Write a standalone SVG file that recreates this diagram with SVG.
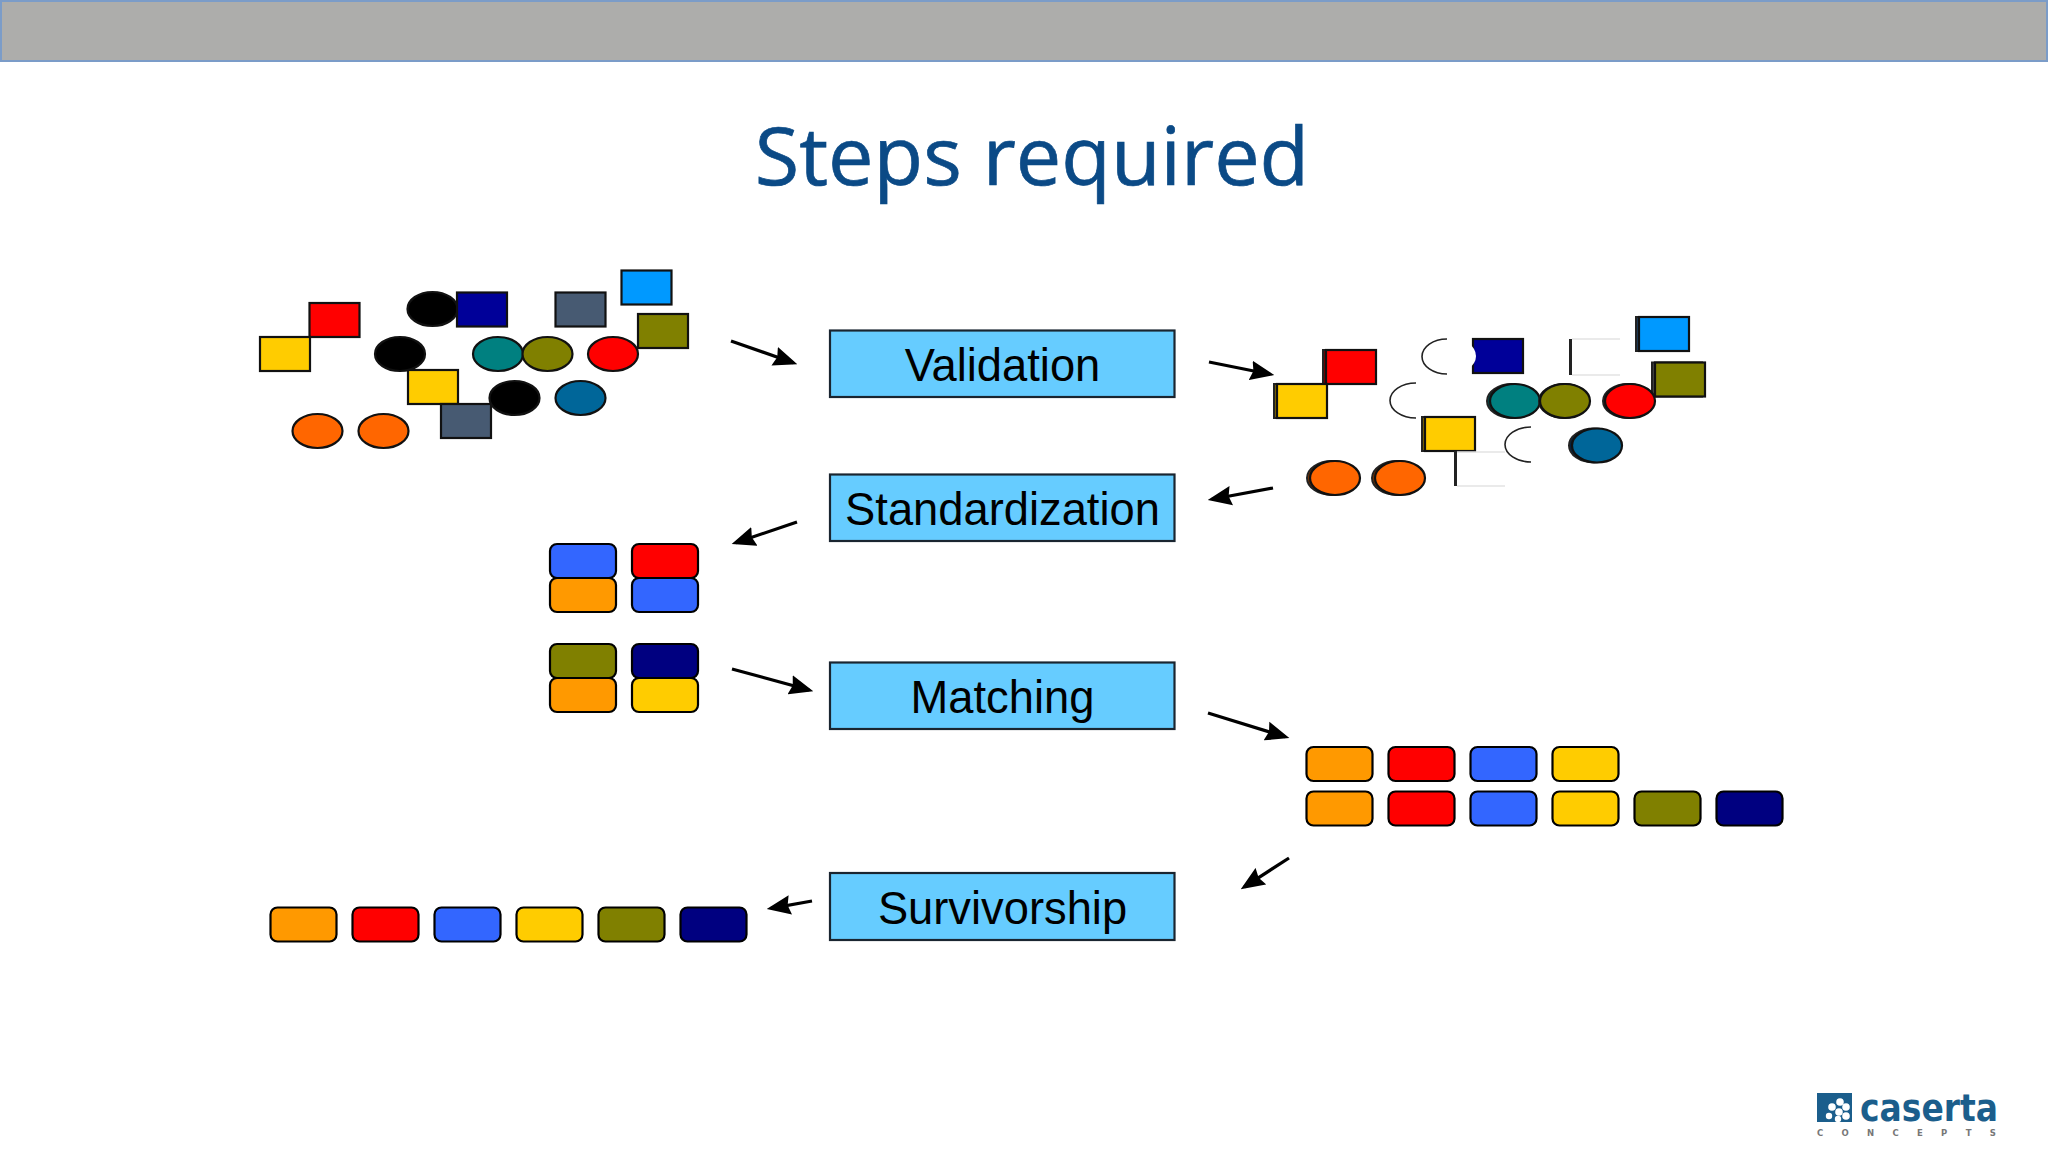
<svg xmlns="http://www.w3.org/2000/svg" width="2048" height="1152" viewBox="0 0 2048 1152">
<style>
.s{stroke:#111;stroke-width:2.2}
.r{stroke:#000;stroke-width:2.2}
.sh{stroke:#222;stroke-width:2}
.box{fill:#66CCFF;stroke:#1a2530;stroke-width:2.2}
.lbl{font-family:"Liberation Sans",Arial,sans-serif;font-size:45.300px;fill:#000;text-anchor:middle}
.cn{fill:none;stroke:#000;stroke-width:3.200;marker-end:url(#ah)}
.arc{fill:none;stroke:#222;stroke-width:1.600}
.gl{fill:none;stroke:#e4e4e4;stroke-width:1.500}
.gb{fill:none;stroke:#222;stroke-width:3}
</style>
<defs>
<marker id="ah" markerUnits="userSpaceOnUse" markerWidth="24" markerHeight="20" viewBox="0 0 22 18" refX="18" refY="9" orient="auto"><path d="M0 0L22 9L0 18L2.500 9Z" fill="#000"/></marker>
<rect id="q" width="50" height="34"/>
<rect id="p" width="66" height="34" rx="7" ry="7"/>
<ellipse id="e" rx="25" ry="17"/>
</defs>
<rect id="header" x="1" y="1" width="2046" height="60" fill="#ADADAB" stroke="#7B9CC8" stroke-width="2"/>
<text id="title" x="1032" y="185" text-anchor="middle" font-family="'Open Sans',sans-serif" font-size="81" fill="#0B4A86" stroke="#0B4A86" stroke-width="0.700">Steps required</text>

<g id="scatter-raw">
<use href="#q" class="s" x="309.500" y="303" fill="#FF0000"/>
<use href="#q" class="s" x="260" y="337" fill="#FFCC00"/>
<use href="#e" class="s" x="432.500" y="309" fill="#000"/>
<use href="#q" class="s" x="457" y="292.500" fill="#000099"/>
<use href="#q" class="s" x="555.500" y="292.500" fill="#475A72"/>
<use href="#q" class="s" x="621.500" y="270.500" fill="#0099FF"/>
<use href="#q" class="s" x="638" y="314" fill="#808000"/>
<use href="#e" class="s" x="400" y="354" fill="#000"/>
<use href="#e" class="s" x="498" y="354" fill="#008080"/>
<use href="#e" class="s" x="547.500" y="354" fill="#808000"/>
<use href="#e" class="s" x="613" y="354" fill="#FF0000"/>
<use href="#q" class="s" x="408" y="370" fill="#FFCC00"/>
<use href="#e" class="s" x="514.500" y="398" fill="#000"/>
<use href="#e" class="s" x="580.500" y="398" fill="#006699"/>
<use href="#q" class="s" x="441" y="404" fill="#475A72"/>
<use href="#e" class="s" x="317.500" y="431" fill="#FF6600"/>
<use href="#e" class="s" x="383.500" y="431" fill="#FF6600"/>
</g>

<g id="scatter-validated">
<use href="#q" class="sh" x="1636" y="317" fill="#1c3b5c"/><use href="#q" class="s" x="1639" y="317" fill="#0099FF"/>
<use href="#q" class="sh" x="1652" y="362.500" fill="#444"/><use href="#q" class="s" x="1655" y="362.500" fill="#808000"/>
<use href="#q" class="sh" x="1323" y="350" fill="#700"/><use href="#q" class="s" x="1326" y="350" fill="#FF0000"/>
<use href="#q" class="sh" x="1274" y="384" fill="#806600"/><use href="#q" class="s" x="1277" y="384" fill="#FFCC00"/>
<use href="#q" class="s" x="1473" y="339" fill="#000099"/>
<ellipse cx="1450" cy="356" rx="26" ry="18.500" fill="#fff"/>
<path class="arc" d="M1447 339A25 17.500 0 0 0 1447 374"/>
<path class="arc" d="M1416 383A26 17.500 0 0 0 1416 418"/>
<path class="arc" d="M1531 427A26 17.500 0 0 0 1531 462"/>
<path class="gb" d="M1570.500 339V375"/><path class="gl" d="M1572 339H1620M1572 375H1620"/>
<use href="#q" class="sh" x="1422" y="417" fill="#806600"/><use href="#q" class="s" x="1425" y="417" fill="#FFCC00"/>
<path class="gb" d="M1455.500 451V486"/><path class="gl" d="M1457 452H1505M1457 486H1505"/>
<ellipse class="sh" cx="1512" cy="401" rx="25" ry="17" fill="#044"/><use href="#e" class="s" x="1515" y="401" fill="#008080"/>
<ellipse class="sh" cx="1564" cy="401" rx="25" ry="17" fill="#444"/><use href="#e" class="s" x="1565" y="401" fill="#808000"/>
<ellipse class="sh" cx="1628" cy="401" rx="25" ry="17" fill="#700"/><use href="#e" class="s" x="1630" y="401" fill="#FF0000"/>
<ellipse class="sh" cx="1594" cy="445.500" rx="25" ry="17" fill="#024"/><use href="#e" class="s" x="1597" y="445.500" fill="#006699"/>
<ellipse class="sh" cx="1332" cy="478" rx="25" ry="17" fill="#730"/><use href="#e" class="s" x="1335" y="478" fill="#FF6600"/>
<ellipse class="sh" cx="1397" cy="478" rx="25" ry="17" fill="#730"/><use href="#e" class="s" x="1400" y="478" fill="#FF6600"/>
</g>

<g id="node-validation"><rect class="box" x="830" y="330.500" width="344.500" height="66.500"/><text class="lbl" x="1002.500" y="381">Validation</text></g>
<g id="node-standardization"><rect class="box" x="830" y="474.500" width="344.500" height="66.500"/><text class="lbl" x="1002.500" y="525">Standardization</text></g>
<g id="node-matching"><rect class="box" x="830" y="662.500" width="344.500" height="66.500"/><text class="lbl" x="1002.500" y="713">Matching</text></g>
<g id="node-survivorship"><rect class="box" x="830" y="873" width="344.500" height="67"/><text class="lbl" x="1002.500" y="924">Survivorship</text></g>

<g id="standardized">
<use href="#p" class="r" x="550" y="544" fill="#3366FF"/>
<use href="#p" class="r" x="550" y="578" fill="#FF9900"/>
<use href="#p" class="r" x="632" y="544" fill="#FF0000"/>
<use href="#p" class="r" x="632" y="578" fill="#3366FF"/>
<use href="#p" class="r" x="550" y="644" fill="#808000"/>
<use href="#p" class="r" x="550" y="678" fill="#FF9900"/>
<use href="#p" class="r" x="632" y="644" fill="#000080"/>
<use href="#p" class="r" x="632" y="678" fill="#FFCC00"/>
</g>

<g id="matched">
<use href="#p" class="r" x="1306.500" y="747" fill="#FF9900"/>
<use href="#p" class="r" x="1388.500" y="747" fill="#FF0000"/>
<use href="#p" class="r" x="1470.500" y="747" fill="#3366FF"/>
<use href="#p" class="r" x="1552.500" y="747" fill="#FFCC00"/>
<use href="#p" class="r" x="1306.500" y="791.500" fill="#FF9900"/>
<use href="#p" class="r" x="1388.500" y="791.500" fill="#FF0000"/>
<use href="#p" class="r" x="1470.500" y="791.500" fill="#3366FF"/>
<use href="#p" class="r" x="1552.500" y="791.500" fill="#FFCC00"/>
<use href="#p" class="r" x="1634.500" y="791.500" fill="#808000"/>
<use href="#p" class="r" x="1716.500" y="791.500" fill="#000080"/>
</g>

<g id="survivors">
<use href="#p" class="r" x="270.500" y="907.500" fill="#FF9900"/>
<use href="#p" class="r" x="352.500" y="907.500" fill="#FF0000"/>
<use href="#p" class="r" x="434.500" y="907.500" fill="#3366FF"/>
<use href="#p" class="r" x="516.500" y="907.500" fill="#FFCC00"/>
<use href="#p" class="r" x="598.500" y="907.500" fill="#808000"/>
<use href="#p" class="r" x="680.500" y="907.500" fill="#000080"/>
</g>

<g id="connectors">
<path class="cn" d="M731 341L793.200 362.700"/>
<path class="cn" d="M1209 362L1270 374.200"/>
<path class="cn" d="M1273 488L1212 499.300"/>
<path class="cn" d="M797 522L735.800 542.700"/>
<path class="cn" d="M732 669L809.100 690"/>
<path class="cn" d="M1208 713L1285.200 736.800"/>
<path class="cn" d="M1289 858L1244.400 886.800"/>
<path class="cn" d="M812 901L771 908.300"/>
</g>

<g id="logo">
<rect x="1817" y="1093" width="35" height="29" fill="#1B5E8C"/>
<g fill="#fff"><circle cx="1840" cy="1102" r="3.800"/><circle cx="1832" cy="1107" r="3.800"/><circle cx="1846" cy="1107" r="3.800"/><circle cx="1839" cy="1112" r="3.800"/><circle cx="1829" cy="1116" r="3.200"/><circle cx="1846" cy="1116" r="3.800"/><circle cx="1838" cy="1119" r="3.200"/></g>
<text x="1860" y="1121" font-family="'DejaVu Sans',sans-serif" font-size="38" font-weight="bold" fill="#1B5E8C" textLength="138" lengthAdjust="spacingAndGlyphs">caserta</text>
<text x="1817" y="1136" font-family="'DejaVu Sans',sans-serif" font-size="8.500" font-weight="bold" fill="#777" letter-spacing="18.300">CONCEPTS</text>
</g>
</svg>
